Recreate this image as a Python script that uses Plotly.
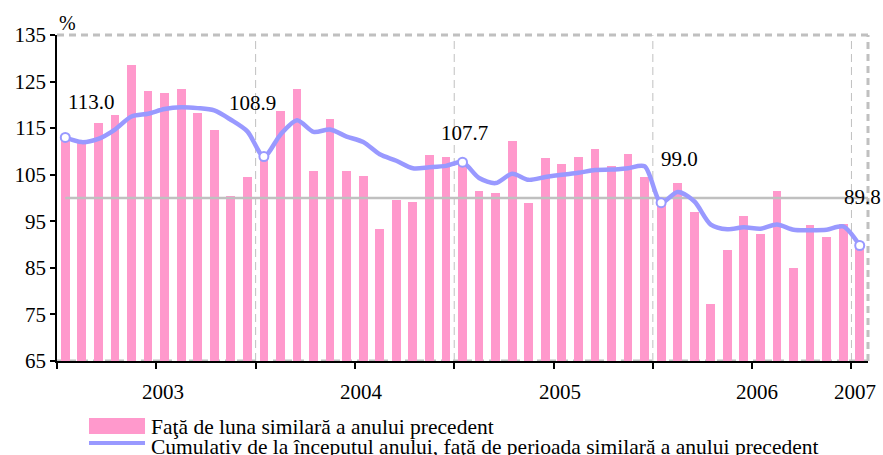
import plotly.graph_objects as go

# ---------------- data ----------------
years = [2003, 2004, 2005, 2006]
month_labels = [f"{y}-{m:02d}" for y in years for m in range(1, 13)] + ["2007-01"]

monthly_yoy = [
    113.0, 112.0, 116.1, 117.8, 128.6, 122.9, 122.5, 123.4, 118.3, 114.5, 100.4, 104.5,   # 2003
    108.9, 118.6, 123.3, 105.7, 117.0, 105.9, 104.7, 93.4, 99.6, 99.2, 109.2, 108.9,       # 2004
    107.7, 101.4, 101.1, 112.3, 98.9, 108.5, 107.2, 108.9, 110.5, 106.9, 109.4, 104.6,     # 2005
    99.0, 103.2, 96.9, 77.3, 88.8, 96.1, 92.3, 101.4, 85.0, 94.2, 91.6, 94.4,              # 2006
    89.8,                                                                                  # 2007
]

cumulative = [
    113.0, 112.0, 112.7, 114.7, 117.5, 118.1, 119.1, 119.5, 119.3, 118.8, 116.8, 114.3,   # 2003
    108.9, 113.6, 116.7, 114.2, 114.7, 113.2, 112.0, 109.4, 108.0, 106.4, 106.6, 106.9,   # 2004
    107.7, 104.3, 103.2, 105.2, 103.9, 104.5, 105.0, 105.4, 106.0, 106.1, 106.4, 106.8,   # 2005
    99.0, 101.3, 99.3, 94.3, 93.3, 93.7, 93.4, 94.3, 93.2, 93.1, 93.2, 93.9,              # 2006
    89.8,                                                                                  # 2007
]

january_indices = [0, 12, 24, 36, 48]
january_labels = ["113.0", "108.9", "107.7", "99.0", "89.8"]

year_labels = ["2003", "2004", "2005", "2006", "2007"]
year_label_pos = [5.9, 17.9, 29.9, 41.8, 47.7]

y_ticks = [65, 75, 85, 95, 105, 115, 125, 135]
reference_level = 100

legend_labels = [
    "Faţă de luna similară a anului precedent",
    "Cumulativ de la începutul anului, faţă de perioada similară a anului precedent",
]

# ---------------- style ----------------
PINK = "#FF99CC"
BLUE = "#9999FF"
GRAY = "#C0C0C0"
FONT = "Liberation Serif"
FS = 21
label_shifts = [(26, 35), (-11, 54), (2, 29), (18, 44), (3, 49)]

W, H = 883, 455
L, R, T, B = 57, 15, 35, 94
PW, PH = W - L - R, H - T - B


def px(xp):
    return (xp - L) / PW


def py(yp):
    return (H - B - yp) / PH


x = list(range(len(month_labels)))
xmin, xmax = -0.5, len(month_labels) - 0.5

fig = go.Figure()

fig.add_trace(go.Bar(
    x=x, y=monthly_yoy, width=0.53, marker=dict(color=PINK, line=dict(width=0)),
    showlegend=False, hoverinfo="y",
))

# reference line at 100
fig.add_trace(go.Scatter(
    x=[0, xmax], y=[reference_level, reference_level], mode="lines",
    line=dict(color=GRAY, width=2.5), showlegend=False, hoverinfo="skip",
))

fig.add_trace(go.Scatter(
    x=x, y=cumulative, mode="lines",
    line=dict(color=BLUE, width=4.5, shape="spline", smoothing=0.8),
    showlegend=False,
))

fig.add_trace(go.Scatter(
    x=[x[i] for i in january_indices], y=[cumulative[i] for i in january_indices],
    mode="markers",
    marker=dict(symbol="circle", size=9, color="white", line=dict(color=BLUE, width=2)),
    showlegend=False,
))

shapes = []
# year separators
for i in january_indices[1:]:
    shapes.append(dict(type="line", xref="x", yref="paper", x0=i - 0.5, x1=i - 0.5, y0=0, y1=1,
                       line=dict(color=GRAY, width=1, dash="8px,5px"), layer="below"))
# dashed frame (top, right, bottom)
shapes.append(dict(type="line", xref="paper", yref="paper", x0=0, x1=1, y0=1, y1=1,
                   line=dict(color=GRAY, width=3, dash="7px,5px"), layer="below"))
shapes.append(dict(type="line", xref="paper", yref="paper", x0=1, x1=1, y0=0, y1=1,
                   line=dict(color=GRAY, width=3, dash="7px,5px"), layer="below"))
shapes.append(dict(type="line", xref="paper", yref="paper", x0=0, x1=1, y0=0, y1=0,
                   line=dict(color=GRAY, width=3, dash="7px,5px"), layer="below"))

# custom legend
shapes.append(dict(type="rect", xref="paper", yref="paper", x0=px(89), x1=px(145), y0=py(434), y1=py(418),
                   fillcolor=PINK, line=dict(width=0)))
shapes.append(dict(type="line", xref="paper", yref="paper", x0=px(89), x1=px(145), y0=py(443), y1=py(443),
                   line=dict(color=BLUE, width=4)))

annotations = []
for i, lab, (dx, dy) in zip(january_indices, january_labels, label_shifts):
    annotations.append(dict(x=x[i], y=cumulative[i], xref="x", yref="y", text=lab, showarrow=False,
                            xshift=dx, yshift=dy, font=dict(family=FONT, size=FS, color="black")))

for lab, pos in zip(year_labels, year_label_pos):
    annotations.append(dict(x=pos, y=py(392), xref="x", yref="paper", text=lab, showarrow=False,
                            yanchor="middle", font=dict(family=FONT, size=FS, color="black")))

annotations.append(dict(x=px(57), y=py(23), xref="paper", yref="paper", text="%", showarrow=False,
                        yanchor="middle", font=dict(family=FONT, size=20, color="black")))

for lab, yc in zip(legend_labels, [427, 447]):
    annotations.append(dict(x=px(149), y=py(yc), xref="paper", yref="paper", text=lab, showarrow=False,
                            xanchor="left", yanchor="middle", font=dict(family=FONT, size=21.5, color="black")))

fig.update_layout(
    width=W, height=H,
    margin=dict(l=L, r=R, t=T, b=B, pad=0),
    plot_bgcolor="white", paper_bgcolor="white",
    font=dict(family=FONT, size=FS, color="black"),
    bargap=0, showlegend=False,
    shapes=shapes, annotations=annotations,
    xaxis=dict(range=[xmin, xmax], showgrid=False, zeroline=False,
               tickmode="array", tickvals=[v - 0.5 for v in range(0, len(month_labels), 6)],
               showticklabels=False, ticks="outside", ticklen=6, tickcolor="black", tickwidth=1.5,
               showline=True, linecolor="black", linewidth=1.5),
    yaxis=dict(range=[65, 135], showgrid=False, zeroline=False,
               tickmode="array", tickvals=y_ticks, ticktext=[str(v) for v in y_ticks],
               ticks="outside", ticklen=5, tickcolor="black", tickwidth=1.5,
               showline=True, linecolor="black", linewidth=1.5,
               tickfont=dict(family=FONT, size=FS, color="black")),
)

fig.write_html(
    "out.html",
    config={"displayModeBar": False},
    post_script="document.body.style.margin='0';document.body.style.overflow='hidden';",
)
